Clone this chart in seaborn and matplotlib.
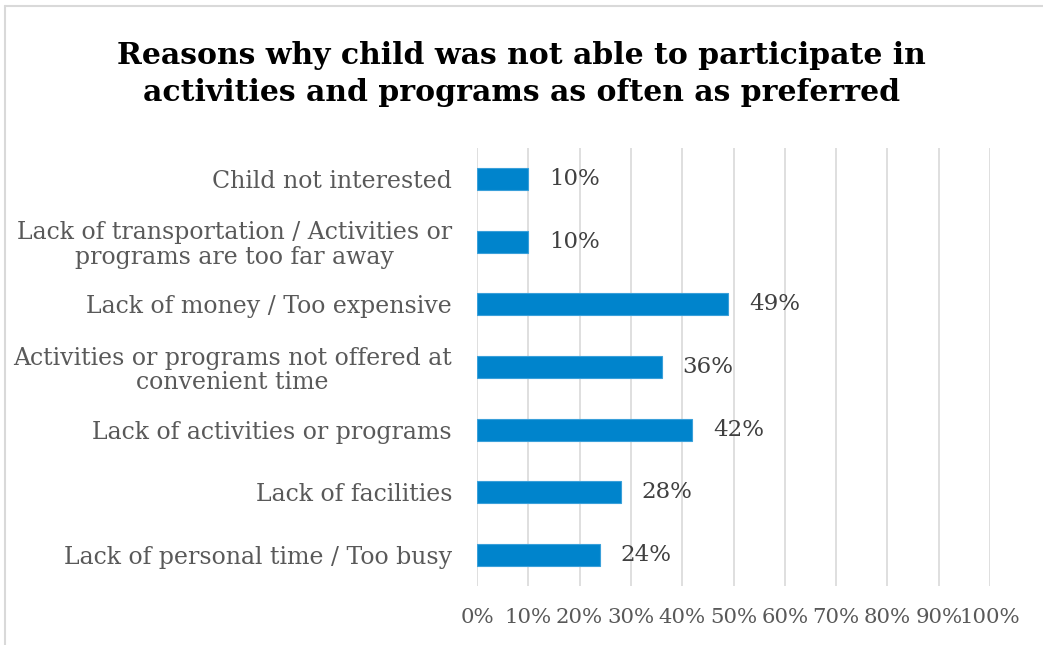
import matplotlib
matplotlib.use("Agg")
import matplotlib.pyplot as plt
import seaborn as sns
import pandas as pd
from matplotlib.lines import Line2D

categories = [
    "Child not interested",
    "Lack of transportation / Activities or\nprograms are too far away",
    "Lack of money / Too expensive",
    "Activities or programs not offered at\nconvenient time",
    "Lack of activities or programs",
    "Lack of facilities",
    "Lack of personal time / Too busy",
]
values = [10, 10, 49, 36, 42, 28, 24]
tick_values = list(range(0, 101, 10))
tick_labels = [f"{v}%" for v in tick_values]
title = "Reasons why child was not able to participate in\nactivities and programs as often as preferred"

df = pd.DataFrame({"reason": categories, "pct": values})

sns.set_theme(style="white")
plt.rcParams["font.family"] = ["DejaVu Serif"]

fig = plt.figure(figsize=(10.43, 6.45), dpi=100)
ax = fig.add_axes([477 / 1043, 1 - 586 / 645, (990 - 477) / 1043, (586 - 148) / 645])

sns.barplot(data=df, x="pct", y="reason", color="#0084CC", saturation=1, width=0.35,
            edgecolor="#3AA0DA", linewidth=0.8, ax=ax, zorder=3)

ax.set_xlim(0, 100)
ax.set_xticks(tick_values)
ax.set_xticklabels(tick_labels, fontsize=15.3, color="#595959")
ax.tick_params(axis="x", length=0, pad=16)
ax.tick_params(axis="y", length=0, pad=18, labelsize=17, labelcolor="#595959")
for lbl in ax.get_yticklabels():
    lbl.set_multialignment("center")
    lbl.set_linespacing(1.1)
ax.set_xlabel("")
ax.set_ylabel("")
ax.grid(axis="x", color="#D9D9D9", linewidth=1.2, zorder=0)
for s in ax.spines.values():
    s.set_visible(False)

for bar, v in zip(ax.patches, values):
    y = bar.get_y() + bar.get_height() / 2
    ax.text(v + 4, y, f"{v}%", va="center", ha="left", fontsize=16.5,
            color="#404040", zorder=4)

fig.text(0.5, 1 - 74 / 645, title, ha="center", va="center", fontsize=21.5,
         fontweight="bold", color="black", linespacing=1.35)

# chart-area frame along the top and left edges
fig.add_artist(Line2D([5 / 1043, 5 / 1043], [0, 1 - 6 / 645], transform=fig.transFigure,
                      color="#D9D9D9", linewidth=1.5))
fig.add_artist(Line2D([5 / 1043, 1], [1 - 6 / 645, 1 - 6 / 645], transform=fig.transFigure,
                      color="#D9D9D9", linewidth=1.5))

fig.savefig("out.png", dpi=100, facecolor="white")
